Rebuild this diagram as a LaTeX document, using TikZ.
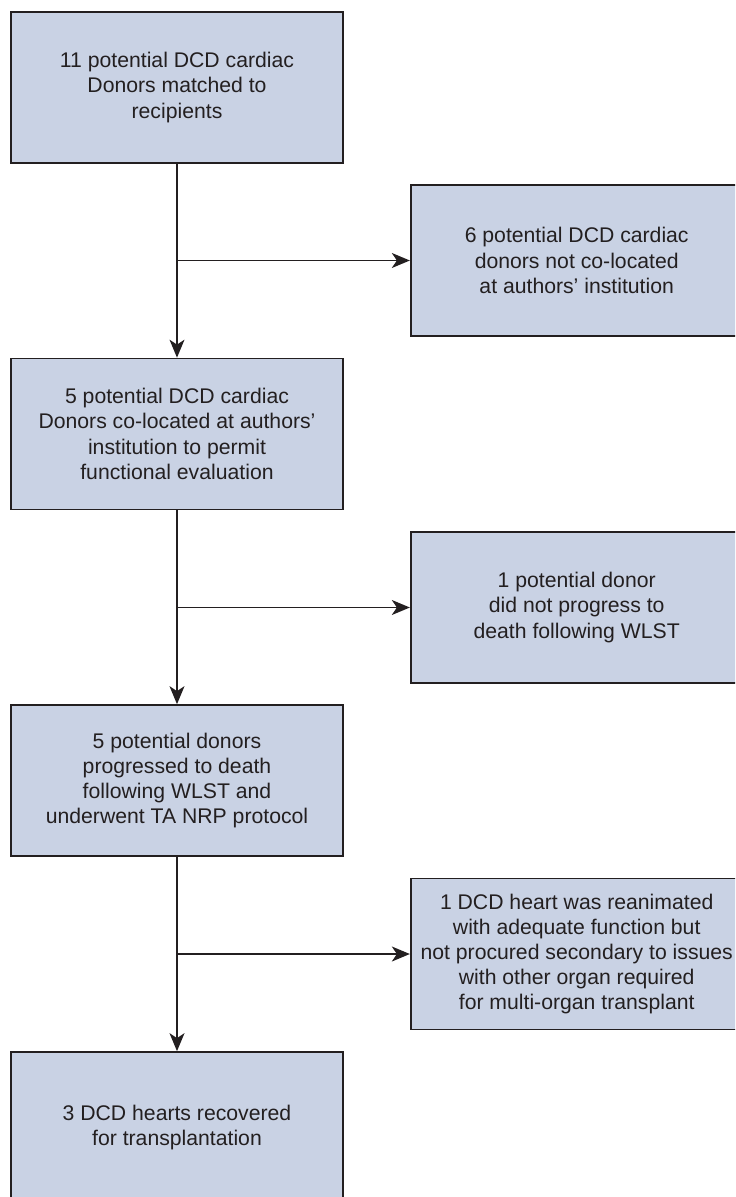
\documentclass[tikz,border=0pt]{standalone}
\usepackage{fontspec}
\setmainfont{Liberation Sans}
\usetikzlibrary{arrows.meta}

\definecolor{boxfill}{HTML}{C9D2E4}
\definecolor{ink}{HTML}{231F20}

\tikzset{
  stepbox/.style={draw=ink, line width=.85pt, fill=boxfill, text=ink,
    minimum width=166pt, minimum height=75.5pt, inner sep=2pt, align=center,
    font=\fontsize{10.6}{12.6}\selectfont},
  flow/.style={draw=ink, line width=.65pt, -{Stealth[length=9pt,width=7.5pt,inset=2.5pt]}}
}

\begin{document}
\begin{tikzpicture}[x=.5pt,y=-.5pt]
        \useasboundingbox (0,0) rectangle (735,1197);
        \clip (0,0) rectangle (735,1197);

        % main column
        \node[stepbox] (matched) at (177,87.5) {11 potential DCD cardiac\\Donors matched to\\recipients};
        \node[stepbox] (colocated) at (177,434) {5 potential DCD cardiac\\Donors co-located at authors'\\institution to permit\\functional evaluation};
        \node[stepbox] (progressed) at (177,780.5) {5 potential donors\\progressed to death\\following WLST and\\underwent TA NRP protocol};
        \node[stepbox] (recovered) at (177,1127.5) {3 DCD hearts recovered\\for transplantation};

        % exclusions
        \node[stepbox] (notcolocated) at (576.7,260.5) {6 potential DCD cardiac\\donors not co-located\\at authors' institution};
        \node[stepbox] (noprogress) at (576.7,607.5) {1 potential donor\\did not progress to\\death following WLST};
        \node[stepbox] (notprocured) at (576.7,954) {1 DCD heart was reanimated\\with adequate function but\\not procured secondary to issues\\with other organ required\\for multi-organ transplant};

        \coordinate (j1) at (matched.south |- notcolocated.west);
        \coordinate (j2) at (matched.south |- noprogress.west);
        \coordinate (j3) at (matched.south |- notprocured.west);

        \draw[flow] (matched) -- (colocated);
        \draw[flow] (colocated) -- (progressed);
        \draw[flow] (progressed) -- (recovered);

        \draw[flow] (j1) -- (notcolocated);
        \draw[flow] (j2) -- (noprogress);
        \draw[flow] (j3) -- (notprocured);
\end{tikzpicture}
\end{document}
